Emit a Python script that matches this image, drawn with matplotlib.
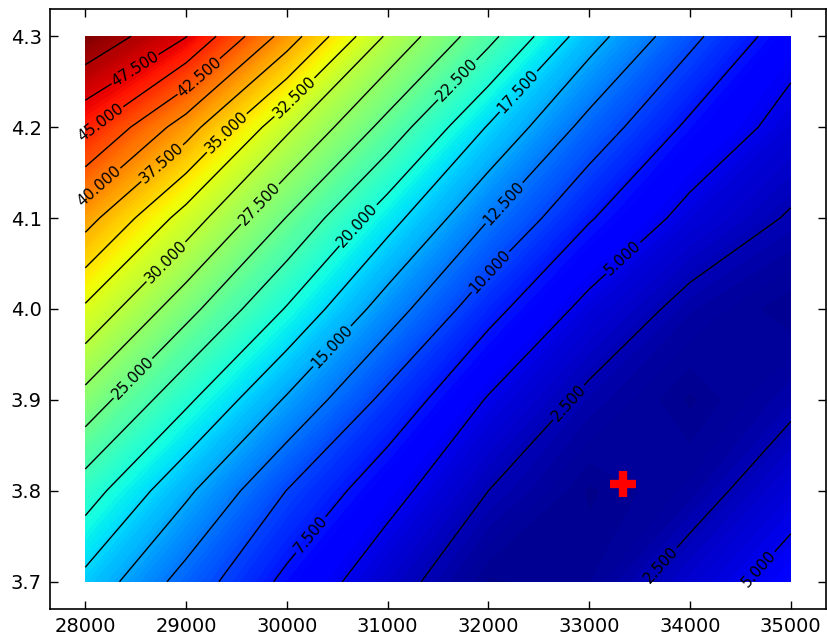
import numpy as np
import matplotlib
matplotlib.use("Agg")
import matplotlib.pyplot as plt

# grid
x_vals = [28000, 29000, 30000, 31000, 32000, 33000, 34000, 35000]
y_vals = [3.7, 3.8, 3.9, 4.0, 4.1, 4.2, 4.3]

z_37 = [16.8, 11.5, 6.9, 3.45, 0.6, 1.0, 3.65, 6.0]
z_38 = [21.2, 15.5, 9.95, 5.85, 2.5, 0.6, 1.5, 4.1]
z_39 = [26.6, 20.5, 14.7, 9.25, 4.8, 2.0, 0.6, 2.0]
z_40 = [32.1, 25.9, 19.8, 13.75, 8.3, 4.25, 1.8, 0.7]
z_41 = [38.5, 31.4, 24.9, 18.5, 12.6, 7.7, 4.2, 2.3]
z_42 = [45.6, 38.7, 30.5, 24.1, 17.3, 11.6, 7.0, 4.05]
z_43 = [52.0, 47.6, 38.9, 29.6, 23.25, 16.1, 10.65, 6.0]

best_x = 33340
best_y = 3.808

Z = np.array([z_37, z_38, z_39, z_40, z_41, z_42, z_43])
X, Y = np.meshgrid(x_vals, y_vals)

plt.rcParams['font.family'] = ['DejaVu Sans']
fig = plt.figure(figsize=(8.28, 6.41), dpi=100)
ax = fig.add_axes([50/828, 1 - 609/641, 776/828, 600/641])

ax.contourf(X, Y, Z, levels=np.linspace(0, Z.max(), 150), cmap='jet')
line_levels = np.arange(2.5, 50.1, 2.5)
cs = ax.contour(X, Y, Z, levels=line_levels, colors='k', linewidths=1.0)

label_pos = [(28482, 4.266), (28164, 4.203), (29108, 4.258), (28164, 4.132),
             (28830, 4.152), (29447, 4.189), (30102, 4.230), (28810, 4.051),
             (29765, 4.112), (28462, 3.925), (31692, 4.252), (30729, 4.090),
             (32319, 4.237), (30410, 3.963), (32121, 4.120), (31972, 4.046),
             (30212, 3.754), (33263, 4.065), (32738, 3.903), (33690, 3.721),
             (34585, 3.724)]
ax.clabel(cs, fmt='%.3f', fontsize=11, manual=label_pos, inline_spacing=4)

ax.plot(best_x, best_y, '+', color='red', markersize=19, mew=6)

ax.set_xlim(27650, 35350)
ax.set_ylim(3.67, 4.33)
ax.set_xticks(range(28000, 35001, 1000))
ax.set_yticks([3.7, 3.8, 3.9, 4.0, 4.1, 4.2, 4.3])
ax.tick_params(direction='in', length=6, width=1, labelsize=14,
               top=True, right=True, pad=6)
for s in ax.spines.values():
    s.set_linewidth(1.2)

fig.savefig('out.png', dpi=100)
